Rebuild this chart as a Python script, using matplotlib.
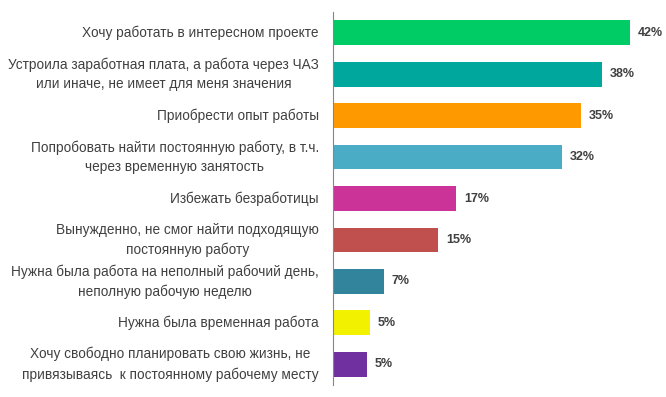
import matplotlib.pyplot as plt

labels = [
    "Хочу работать в интересном проекте",
    "Устроила заработная плата, а работа через ЧАЗ\nили иначе, не имеет для меня значения",
    "Приобрести опыт работы",
    "Попробовать найти постоянную работу, в т.ч.\nчерез временную занятость",
    "Избежать безработицы",
    "Вынужденно, не смог найти подходящую\nпостоянную работу",
    "Нужна была работа на неполный рабочий день,\nнеполную рабочую неделю",
    "Нужна была временная работа",
    "Хочу свободно планировать свою жизнь, не\nпривязываясь  к постоянному рабочему месту",
]
values = [42, 38, 35, 32.4, 17.4, 14.9, 7.2, 5.2, 4.8]
value_text = ["42%", "38%", "35%", "32%", "17%", "15%", "7%", "5%", "5%"]
colors = ["#00CC66", "#00A79D", "#FF9900", "#4BACC6", "#CC3399",
          "#C0504D", "#31849B", "#F2F200", "#7030A0"]

plt.rcParams['font.family'] = ['Liberation Sans', 'DejaVu Sans']

fig = plt.figure(figsize=(6.66, 3.97), dpi=100)
ax = fig.add_axes([0.5, 0.03, 0.48, 0.94])

y = list(range(len(values)))
ax.barh(y, values, height=0.6, color=colors)
ax.set_ylim(8.5, -0.5)
ax.set_xlim(0, 45.2)

for i, v in enumerate(values):
    ax.text(v + 1.1, i, value_text[i], va='center', ha='left',
            fontsize=9, fontweight='bold', color='#404040')
    ax.text(-2.0, i, labels[i], va='center', ha='right', multialignment='center',
            fontsize=9.8, color='#404040', linespacing=1.5)

for s in ['top', 'right', 'bottom']:
    ax.spines[s].set_visible(False)
ax.spines['left'].set_color('#868686')
ax.set_xticks([])
ax.set_yticks([])

fig.savefig('out.png', dpi=100)
